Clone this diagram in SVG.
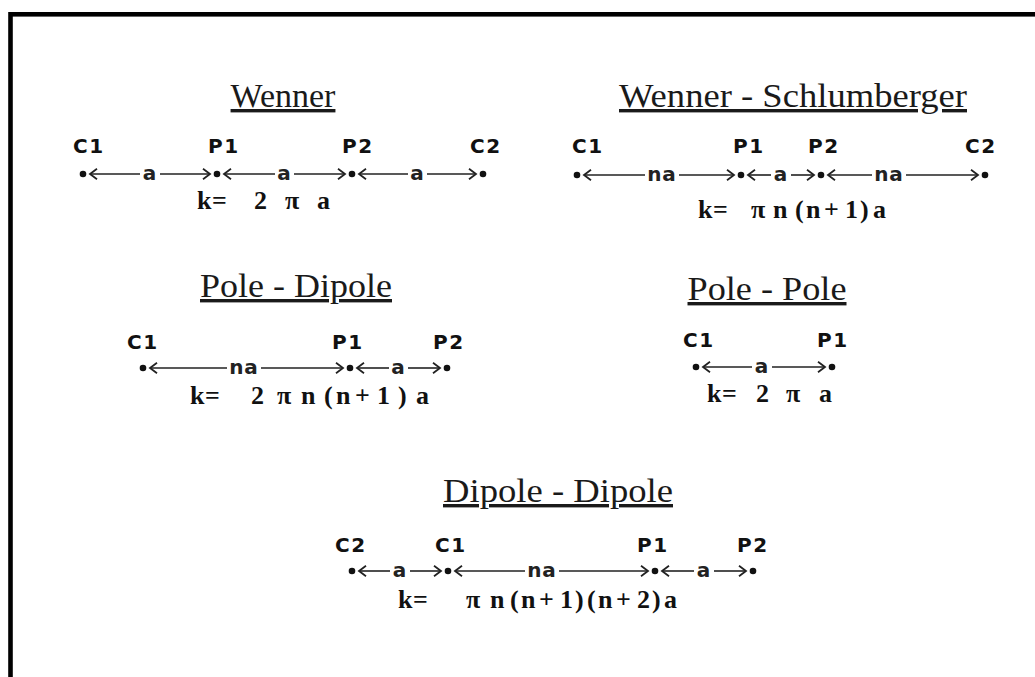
<svg xmlns="http://www.w3.org/2000/svg" width="1035" height="677" viewBox="0 0 1035 677">
<defs>
<marker id="chev" markerUnits="userSpaceOnUse" markerWidth="12" markerHeight="14" refX="10" refY="7" viewBox="0 0 12 14" orient="auto-start-reverse">
<path d="M3 1.8 L10 7 L3 12.2" fill="none" stroke="#222" stroke-width="1.8"/>
</marker>
</defs>
<style>
.title{font-family:"Liberation Serif","Times New Roman",serif;font-size:34px;fill:#1a1a1a;text-decoration:underline;}
.lbl{font-family:"DejaVu Sans",Verdana,sans-serif;font-weight:bold;font-size:20px;fill:#111;letter-spacing:1.5px;}
.al{font-family:"DejaVu Sans",Verdana,sans-serif;font-weight:bold;font-size:20px;fill:#222;letter-spacing:1px;text-anchor:middle;}
.fx{font-family:"Liberation Serif","Times New Roman",serif;font-weight:bold;font-size:26px;fill:#111;}
.dot{fill:#111;}
.ln{stroke:#222;stroke-width:1.6;fill:none;}
.ls{marker-start:url(#chev);}
.le{marker-end:url(#chev);}
</style>
<rect x="0" y="0" width="1035" height="677" fill="#fff"/>
<rect x="10.5" y="14.3" width="1100" height="1000" fill="none" stroke="#000" stroke-width="4.6"/>

<g id="wenner">
<text class="title" x="283" y="107" text-anchor="middle">Wenner</text>
<text class="lbl" x="73" y="153">C1</text>
<text class="lbl" x="208" y="153">P1</text>
<text class="lbl" x="342" y="153">P2</text>
<text class="lbl" x="470" y="153">C2</text>
<circle class="dot" cx="83" cy="174" r="3.3"/>
<circle class="dot" cx="217" cy="174" r="3.3"/>
<circle class="dot" cx="352" cy="174" r="3.3"/>
<circle class="dot" cx="483" cy="174" r="3.3"/>
<text class="fx" y="209"><tspan x="197">k</tspan><tspan x="212">=</tspan> <tspan x="254">2</tspan> <tspan x="285">π</tspan> <tspan x="317">a</tspan></text>
</g>

<g id="wenner-schlumberger">
<text class="title" x="793" y="107" text-anchor="middle" textLength="348" lengthAdjust="spacingAndGlyphs">Wenner - Schlumberger</text>
<text class="lbl" x="572" y="153">C1</text>
<text class="lbl" x="733" y="153">P1</text>
<text class="lbl" x="808" y="153">P2</text>
<text class="lbl" x="965" y="153">C2</text>
<circle class="dot" cx="577" cy="175" r="3.3"/>
<circle class="dot" cx="741" cy="175" r="3.3"/>
<circle class="dot" cx="821" cy="175" r="3.3"/>
<circle class="dot" cx="985" cy="175" r="3.3"/>
<text class="fx" y="218"><tspan x="698">k</tspan><tspan x="713">=</tspan> <tspan x="751">π</tspan> <tspan x="773">n</tspan><tspan x="795">(</tspan><tspan x="806">n</tspan><tspan x="824">+</tspan><tspan x="845">1</tspan><tspan x="860">)</tspan> <tspan x="873">a</tspan></text>
</g>

<g id="pole-dipole">
<text class="title" x="296" y="297" text-anchor="middle" textLength="192" lengthAdjust="spacingAndGlyphs">Pole - Dipole</text>
<text class="lbl" x="127" y="349">C1</text>
<text class="lbl" x="332" y="349">P1</text>
<text class="lbl" x="433" y="349">P2</text>
<circle class="dot" cx="143" cy="368" r="3.3"/>
<circle class="dot" cx="350" cy="368" r="3.3"/>
<circle class="dot" cx="447" cy="368" r="3.3"/>
<text class="fx" y="404"><tspan x="190">k</tspan><tspan x="205">=</tspan> <tspan x="251">2</tspan> <tspan x="277">π</tspan> <tspan x="301">n</tspan><tspan x="324">(</tspan><tspan x="336">n</tspan><tspan x="355">+</tspan><tspan x="377">1</tspan><tspan x="398">)</tspan> <tspan x="416">a</tspan></text>
</g>

<g id="pole-pole">
<text class="title" x="767" y="300" text-anchor="middle" textLength="159" lengthAdjust="spacingAndGlyphs">Pole - Pole</text>
<text class="lbl" x="683" y="347">C1</text>
<text class="lbl" x="817" y="347">P1</text>
<circle class="dot" cx="696" cy="367" r="3.3"/>
<circle class="dot" cx="832" cy="367" r="3.3"/>
<text class="fx" y="402"><tspan x="707">k</tspan><tspan x="722">=</tspan> <tspan x="756">2</tspan> <tspan x="786">π</tspan> <tspan x="819">a</tspan></text>
</g>

<g id="dipole-dipole">
<text class="title" x="558" y="502" text-anchor="middle" textLength="230" lengthAdjust="spacingAndGlyphs">Dipole - Dipole</text>
<text class="lbl" x="335" y="552">C2</text>
<text class="lbl" x="435" y="552">C1</text>
<text class="lbl" x="637" y="552">P1</text>
<text class="lbl" x="737" y="552">P2</text>
<circle class="dot" cx="352" cy="571" r="3.3"/>
<circle class="dot" cx="448" cy="571" r="3.3"/>
<circle class="dot" cx="655" cy="571" r="3.3"/>
<circle class="dot" cx="753" cy="571" r="3.3"/>
<text class="fx" y="608"><tspan x="398">k</tspan><tspan x="413">=</tspan> <tspan x="466">π</tspan> <tspan x="490">n</tspan><tspan x="510">(</tspan><tspan x="521">n</tspan><tspan x="539">+</tspan><tspan x="560">1</tspan><tspan x="575">)</tspan><tspan x="587">(</tspan><tspan x="598">n</tspan><tspan x="616">+</tspan><tspan x="637">2</tspan><tspan x="652">)</tspan> <tspan x="664">a</tspan></text>
</g>

<g id="connectors">
<line class="ln ls" x1="90" y1="174" x2="140" y2="174"/><line class="ln le" x1="160" y1="174" x2="210" y2="174"/><text class="al" x="150" y="180">a</text>
<line class="ln ls" x1="224" y1="174" x2="275" y2="174"/><line class="ln le" x1="294" y1="174" x2="345" y2="174"/><text class="al" x="284.5" y="180">a</text>
<line class="ln ls" x1="359" y1="174" x2="408" y2="174"/><line class="ln le" x1="427" y1="174" x2="476" y2="174"/><text class="al" x="417.5" y="180">a</text>

<line class="ln ls" x1="584" y1="175" x2="645" y2="175"/><line class="ln le" x1="679" y1="175" x2="734" y2="175"/><text class="al" x="662" y="181">na</text>
<line class="ln ls" x1="748" y1="175" x2="771" y2="175"/><line class="ln le" x1="791" y1="175" x2="814" y2="175"/><text class="al" x="781" y="181">a</text>
<line class="ln ls" x1="828" y1="175" x2="872" y2="175"/><line class="ln le" x1="906" y1="175" x2="978" y2="175"/><text class="al" x="889" y="181">na</text>

<line class="ln ls" x1="150" y1="368" x2="227" y2="368"/><line class="ln le" x1="261" y1="368" x2="343" y2="368"/><text class="al" x="244" y="374">na</text>
<line class="ln ls" x1="357" y1="368" x2="389" y2="368"/><line class="ln le" x1="408" y1="368" x2="440" y2="368"/><text class="al" x="398.5" y="374">a</text>

<line class="ln ls" x1="703" y1="367" x2="752" y2="367"/><line class="ln le" x1="772" y1="367" x2="825" y2="367"/><text class="al" x="762" y="373">a</text>

<line class="ln ls" x1="359" y1="571" x2="390" y2="571"/><line class="ln le" x1="410" y1="571" x2="441" y2="571"/><text class="al" x="400" y="577">a</text>
<line class="ln ls" x1="455" y1="571" x2="525" y2="571"/><line class="ln le" x1="559" y1="571" x2="648" y2="571"/><text class="al" x="542" y="577">na</text>
<line class="ln ls" x1="662" y1="571" x2="694" y2="571"/><line class="ln le" x1="714" y1="571" x2="746" y2="571"/><text class="al" x="704" y="577">a</text>
</g>
</svg>
